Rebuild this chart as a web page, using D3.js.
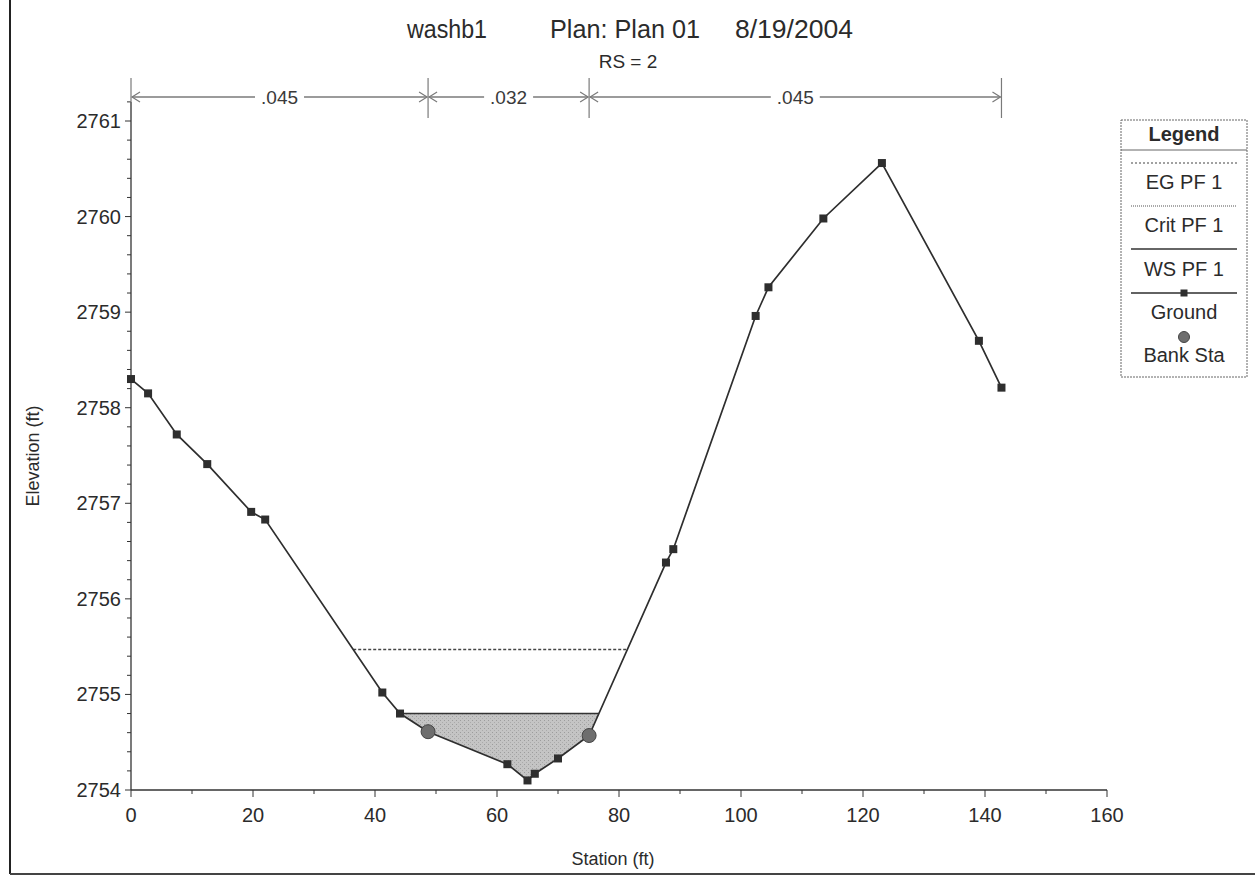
<!DOCTYPE html>
<html>
<head>
<meta charset="utf-8">
<script src="https://cdn.jsdelivr.net/npm/d3@7"></script>
<style>
  html, body { margin: 0; padding: 0; background: #fff; }
  svg { display: block; font-family: "Liberation Sans", Arial, sans-serif; }
</style>
</head>
<body>
<svg id="chart" width="1255" height="876"></svg>
<script>
// Cross section RS = 2: ground survey points (station ft, elevation ft)
const groundStation = [0, 2.8, 7.5, 12.5, 19.7, 22.0, 41.2, 44.1, 48.7, 61.7, 65.0, 66.2, 70.0, 75.1, 87.7, 88.9, 102.4, 104.5, 113.5, 123.1, 139.0, 142.7];
const groundElev    = [2758.30, 2758.15, 2757.72, 2757.41, 2756.91, 2756.83, 2755.02, 2754.80, 2754.61, 2754.27, 2754.10, 2754.17, 2754.33, 2754.57, 2756.38, 2756.52, 2758.96, 2759.26, 2759.98, 2760.56, 2758.70, 2758.21];

// Bank stations (left, right)
const bankStations = [48.7, 75.1];

// Profile results
const egElev = 2755.47;   // EG PF 1
const wsElev = 2754.80;   // WS PF 1

// Manning's n regions
const nBreaks = [0, 48.7, 75.1, 142.7];
const nLabels = [".045", ".032", ".045"];

// Axis ticks
const xTicks = [0, 20, 40, 60, 80, 100, 120, 140, 160];
const yTicks = [2754, 2755, 2756, 2757, 2758, 2759, 2760, 2761];

const titleParts = ["washb1", "Plan: Plan 01", "8/19/2004"];
const subtitle = "RS = 2";
const legendItems = ["EG PF 1", "Crit PF 1", "WS PF 1", "Ground", "Bank Sta"];

const svg = d3.select("#chart");
const ink = "#2b2b2b";

const x = d3.scaleLinear().domain([0, 160]).range([131, 1107]);
const y = d3.scaleLinear().domain([2754, 2761]).range([790, 121]);
const yTop = 2761.2;

const ground = groundStation.map((s, i) => [s, groundElev[i]]);

function groundAt(s) {
  for (let i = 0; i < ground.length - 1; i++) {
    const [s0, e0] = ground[i], [s1, e1] = ground[i + 1];
    if (s >= s0 && s <= s1) return e0 + (e1 - e0) * (s - s0) / (s1 - s0);
  }
  return null;
}

// Where a water level meets the ground on each side of the thalweg
function crossings(level) {
  const iMin = d3.minIndex(ground, d => d[1]);
  let left = null, right = null;
  for (let i = iMin; i > 0; i--) {
    const [s0, e0] = ground[i - 1], [s1, e1] = ground[i];
    if (e0 >= level && e1 <= level) { left = s0 + (level - e0) * (s1 - s0) / (e1 - e0); break; }
  }
  for (let i = iMin; i < ground.length - 1; i++) {
    const [s0, e0] = ground[i], [s1, e1] = ground[i + 1];
    if (e0 <= level && e1 >= level) { right = s0 + (level - e0) * (s1 - s0) / (e1 - e0); break; }
  }
  return { left, right };
}

// Page frame (left and bottom edges)
svg.append("line").attr("x1", 10).attr("x2", 10).attr("y1", 0).attr("y2", 874)
  .attr("stroke", "#222").attr("stroke-width", 2);
svg.append("line").attr("x1", 10).attr("x2", 1255).attr("y1", 874).attr("y2", 874)
  .attr("stroke", "#444").attr("stroke-width", 2);

// Title
const tx = [407, 550, 735], tw = [80, 150, 118];
titleParts.forEach((t, i) => {
  svg.append("text").attr("x", tx[i]).attr("y", 38).attr("font-size", 25)
    .attr("fill", ink).attr("textLength", tw[i]).attr("lengthAdjust", "spacingAndGlyphs").text(t);
});
svg.append("text").attr("x", 628).attr("y", 68).attr("text-anchor", "middle")
  .attr("font-size", 19).attr("fill", ink).text(subtitle);

// Water area
const ws = crossings(wsElev);
const waterPts = [[ws.left, wsElev]]
  .concat(ground.filter(d => d[0] > ws.left && d[0] < ws.right))
  .concat([[ws.right, wsElev]]);
const defs = svg.append("defs");
const pat = defs.append("pattern").attr("id", "stipple").attr("patternUnits", "userSpaceOnUse")
  .attr("width", 4).attr("height", 4);
pat.append("rect").attr("width", 4).attr("height", 4).attr("fill", "#c4c4c4");
pat.append("rect").attr("x", 0).attr("y", 0).attr("width", 1).attr("height", 1).attr("fill", "#9c9c9c");
pat.append("rect").attr("x", 2).attr("y", 2).attr("width", 1).attr("height", 1).attr("fill", "#aaaaaa");
svg.append("path")
  .attr("d", d3.line().x(d => x(d[0])).y(d => y(d[1]))(waterPts) + "Z")
  .attr("fill", "url(#stipple)").attr("stroke", "none");

// WS line
svg.append("line").attr("x1", x(ws.left)).attr("x2", x(ws.right))
  .attr("y1", y(wsElev)).attr("y2", y(wsElev))
  .attr("stroke", "#333").attr("stroke-width", 1.5);

// EG line
const eg = crossings(egElev);
svg.append("line").attr("x1", x(eg.left)).attr("x2", x(eg.right))
  .attr("y1", y(egElev)).attr("y2", y(egElev))
  .attr("stroke", "#444").attr("stroke-width", 1.4).attr("stroke-dasharray", "3,2");

// Axes
const axisColor = "#333";
const gx = svg.append("g").attr("transform", `translate(0,${y(2754)})`);
gx.append("line").attr("x1", x(0)).attr("x2", x(160)).attr("stroke", axisColor).attr("stroke-width", 1.3);
d3.range(0, 161, 10).forEach(v => {
  const major = v % 20 === 0;
  gx.append("line").attr("x1", x(v)).attr("x2", x(v)).attr("y1", 0).attr("y2", major ? 7 : 4)
    .attr("stroke", axisColor).attr("stroke-width", 1);
});
xTicks.forEach(v => {
  gx.append("text").attr("x", x(v)).attr("y", 32).attr("text-anchor", "middle")
    .attr("font-size", 20).attr("fill", ink).text(v);
});

const gy = svg.append("g").attr("transform", `translate(${x(0)},0)`);
gy.append("line").attr("y1", y(2754)).attr("y2", y(yTop)).attr("stroke", axisColor).attr("stroke-width", 1.3);
d3.range(0, 37).forEach(k => {
  const v = 2754 + k * 0.2;
  const major = k % 5 === 0;
  gy.append("line").attr("x1", major ? -6 : -4).attr("x2", 0).attr("y1", y(v)).attr("y2", y(v))
    .attr("stroke", axisColor).attr("stroke-width", 1);
});
yTicks.forEach(v => {
  gy.append("text").attr("x", -10).attr("y", y(v) + 7).attr("text-anchor", "end")
    .attr("font-size", 20).attr("fill", ink).text(v);
});

svg.append("text").attr("x", 613).attr("y", 865).attr("text-anchor", "middle")
  .attr("font-size", 18).attr("fill", ink).text("Station (ft)");
svg.append("text").attr("transform", "translate(39,456) rotate(-90)").attr("text-anchor", "middle")
  .attr("font-size", 18).attr("fill", ink).text("Elevation (ft)");

// Ground line and points
svg.append("path")
  .attr("d", d3.line().x(d => x(d[0])).y(d => y(d[1]))(ground))
  .attr("fill", "none").attr("stroke", "#2e2e2e").attr("stroke-width", 1.7);
svg.selectAll("rect.gpt").data(ground.filter(d => !bankStations.includes(d[0]))).join("rect")
  .attr("class", "gpt")
  .attr("x", d => x(d[0]) - 4).attr("y", d => y(d[1]) - 4)
  .attr("width", 8).attr("height", 8).attr("fill", "#2e2e2e");

// Bank stations
svg.selectAll("circle.bank").data(bankStations).join("circle")
  .attr("class", "bank")
  .attr("cx", d => x(d)).attr("cy", d => y(groundAt(d))).attr("r", 7)
  .attr("fill", "#6e6e6e").attr("stroke", "#444").attr("stroke-width", 1);

// Manning's n regions
const nY = 97, nColor = "#7a7a7a";
nBreaks.forEach(b => {
  svg.append("line").attr("x1", x(b)).attr("x2", x(b)).attr("y1", 78).attr("y2", 118)
    .attr("stroke", nColor).attr("stroke-width", 1.2);
});
nLabels.forEach((lab, i) => {
  const a = x(nBreaks[i]), b = x(nBreaks[i + 1]), m = (a + b) / 2;
  const t = svg.append("text").attr("x", m).attr("y", nY + 7).attr("text-anchor", "middle")
    .attr("font-size", 19).attr("fill", "#3a3a3a").text(lab);
  const half = t.node().getComputedTextLength() / 2 + 6;
  [[a + 1, m - half], [m + half, b - 1]].forEach(([p, q]) => {
    svg.append("line").attr("x1", p).attr("x2", q).attr("y1", nY).attr("y2", nY)
      .attr("stroke", nColor).attr("stroke-width", 1.6);
  });
  // arrowheads pointing to the region limits
  svg.append("path").attr("d", `M${a + 9},${nY - 5} L${a + 1},${nY} L${a + 9},${nY + 5}`)
    .attr("fill", "none").attr("stroke", nColor).attr("stroke-width", 1.2);
  svg.append("path").attr("d", `M${b - 9},${nY - 5} L${b - 1},${nY} L${b - 9},${nY + 5}`)
    .attr("fill", "none").attr("stroke", nColor).attr("stroke-width", 1.2);
});

// Legend
const lg = svg.append("g");
const L = { x0: 1121, x1: 1247, y0: 120, y1: 377 };
lg.append("rect").attr("x", L.x0).attr("y", L.y0).attr("width", L.x1 - L.x0).attr("height", L.y1 - L.y0)
  .attr("fill", "#fff").attr("stroke", "#666").attr("stroke-width", 1).attr("stroke-dasharray", "2,1");
lg.append("line").attr("x1", L.x0).attr("x2", L.x1).attr("y1", 150).attr("y2", 150)
  .attr("stroke", "#666").attr("stroke-width", 1);
lg.append("text").attr("x", 1184).attr("y", 141).attr("text-anchor", "middle")
  .attr("font-size", 20).attr("font-weight", "bold").attr("fill", ink).text("Legend");
const cx = 1184, lx0 = 1131, lx1 = 1237;
const symY = [163, 206, 249, 293, 337];
const txtY = [189, 232, 276, 319, 362];
lg.append("line").attr("x1", lx0).attr("x2", lx1).attr("y1", symY[0]).attr("y2", symY[0])
  .attr("stroke", "#444").attr("stroke-width", 1.2).attr("stroke-dasharray", "2,2");
lg.append("line").attr("x1", lx0).attr("x2", lx1).attr("y1", symY[1]).attr("y2", symY[1])
  .attr("stroke", "#555").attr("stroke-width", 1.2).attr("stroke-dasharray", "1,1");
lg.append("line").attr("x1", lx0).attr("x2", lx1).attr("y1", symY[2]).attr("y2", symY[2])
  .attr("stroke", "#333").attr("stroke-width", 1.4);
lg.append("line").attr("x1", lx0).attr("x2", lx1).attr("y1", symY[3]).attr("y2", symY[3])
  .attr("stroke", "#2e2e2e").attr("stroke-width", 1.5);
lg.append("rect").attr("x", cx - 3.5).attr("y", symY[3] - 3.5).attr("width", 7).attr("height", 7).attr("fill", "#2e2e2e");
lg.append("circle").attr("cx", cx).attr("cy", symY[4]).attr("r", 5.5).attr("fill", "#6e6e6e").attr("stroke", "#444");
legendItems.forEach((t, i) => {
  lg.append("text").attr("x", cx).attr("y", txtY[i]).attr("text-anchor", "middle")
    .attr("font-size", 20).attr("fill", ink).text(t);
});
</script>
</body>
</html>
